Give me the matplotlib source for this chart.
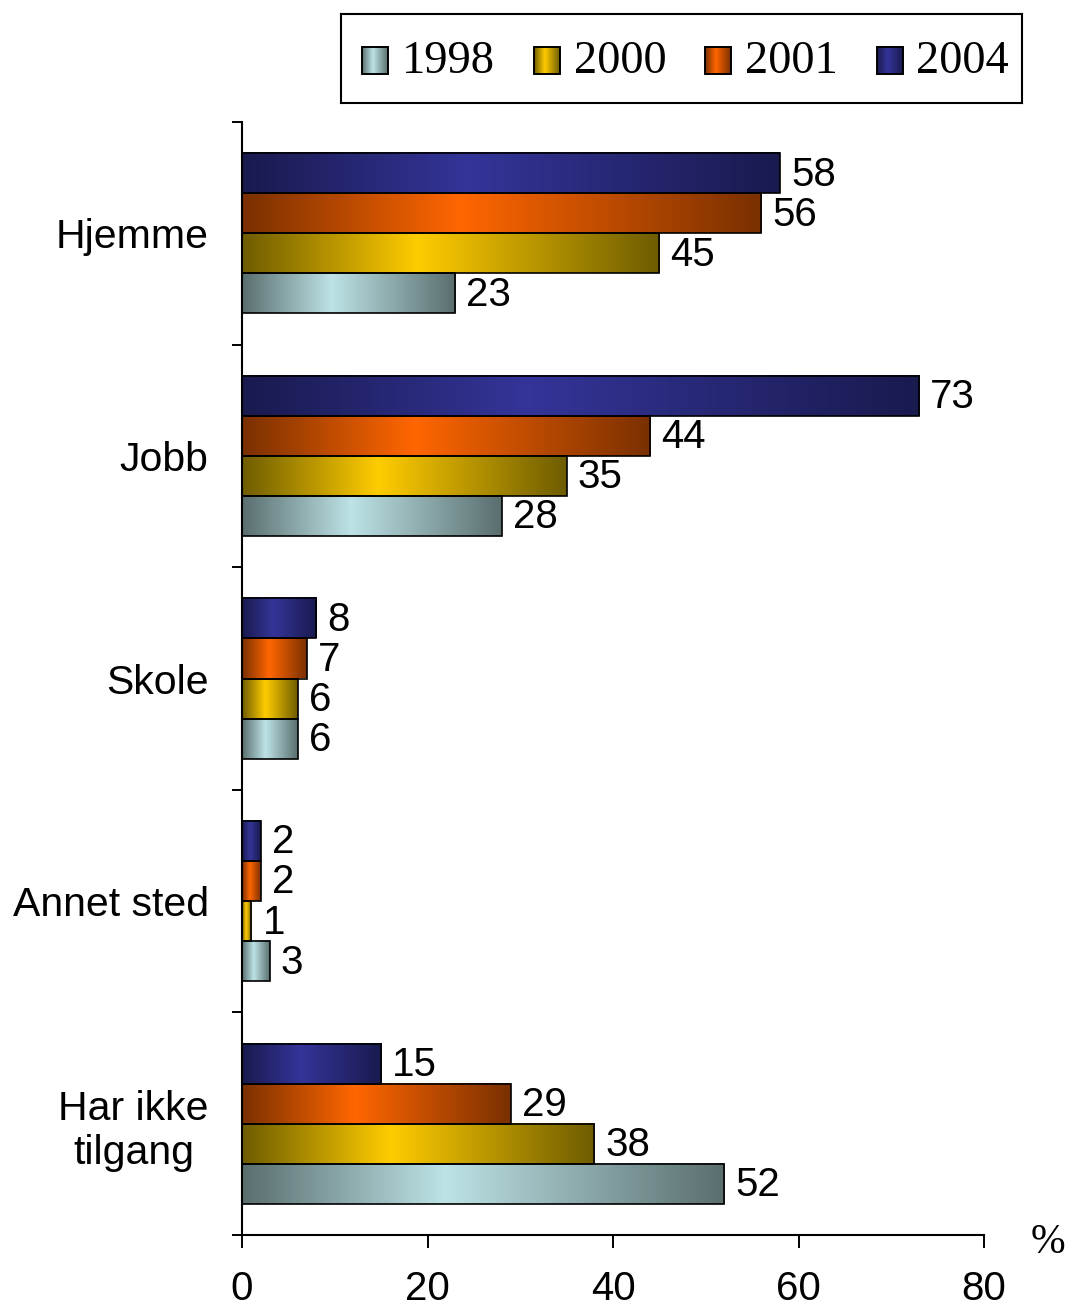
import numpy as np
import matplotlib
matplotlib.use('Agg')
from matplotlib import pyplot as plt
from matplotlib.colors import LinearSegmentedColormap
from matplotlib.patches import Rectangle

# data
categories = ['Hjemme', 'Jobb', 'Skole', 'Annet sted', 'Har ikke\ntilgang']
years = ['1998', '2000', '2001', '2004']
v1998 = [23, 28, 6, 3, 52]
v2000 = [45, 35, 6, 1, 38]
v2001 = [56, 44, 7, 2, 29]
v2004 = [58, 73, 8, 2, 15]
series = [v1998, v2000, v2001, v2004]

# (dark edge, light middle) per year
shades = [('#5a6e6e', '#bde3e6'),
          ('#6e5c00', '#ffcc00'),
          ('#7a3000', '#ff6600'),
          ('#191a4e', '#343499')]

plt.rcParams['font.family'] = ['Liberation Sans', 'DejaVu Sans']

fig = plt.figure(figsize=(10.72, 13.08), dpi=100)
ax = fig.add_axes([242 / 1072, 1 - 1235 / 1308, 742 / 1072, 1113 / 1308])

h = 0.18
grad = np.linspace(0, 1, 256).reshape(1, -1)
cmaps = [LinearSegmentedColormap.from_list('g%d' % i, [(0, d), (0.42, l), (1, d)])
         for i, (d, l) in enumerate(shades)]

for i, vals in enumerate(series):
    offs = (1.5 - i) * h  # 1998 lowest, 2004 on top
    ys = np.arange(len(categories)) + offs
    bars = ax.barh(ys, vals, height=h, facecolor='none', edgecolor='black',
                   linewidth=1.2, zorder=3)
    for b, v in zip(bars, vals):
        x0, y0 = b.get_x(), b.get_y()
        ax.imshow(grad, cmap=cmaps[i], aspect='auto', zorder=2,
                  extent=[x0, x0 + b.get_width(), y0 + b.get_height(), y0],
                  interpolation='bilinear')
        ax.annotate(str(v), (x0 + b.get_width(), y0 + b.get_height() / 2),
                    xytext=(8, -1), textcoords='offset points',
                    ha='left', va='center', fontsize=29)

ax.set_xlim(0, 80)
ax.set_ylim(4.5, -0.5)
ax.set_xticks([0, 20, 40, 60, 80])
ax.set_yticks(np.arange(-0.5, 5, 1))
ax.set_yticklabels([])
ax.set_yticks(np.arange(len(categories)), minor=True)
ax.set_yticklabels(categories, minor=True, fontsize=29.5, multialignment='center')
ax.tick_params(axis='y', which='minor', length=0, pad=24)
ax.tick_params(axis='y', which='major', length=7, width=1.4, direction='out')
ax.tick_params(axis='x', length=9, width=1.4, direction='out', pad=16, labelsize=29)
for s in ['top', 'right']:
    ax.spines[s].set_visible(False)
for s in ['left', 'bottom']:
    ax.spines[s].set_linewidth(1.5)

fig.text(1048 / 1072, 1 - 1243 / 1308, '%', family='Liberation Serif',
         fontsize=30, ha='center', va='center')

# legend drawn by hand
lax = fig.add_axes([341 / 1072, 1 - 103 / 1308, 681 / 1072, 89 / 1308])
lax.set_xticks([])
lax.set_yticks([])
for s in lax.spines.values():
    s.set_linewidth(1.5)
for i, yr in enumerate(years):
    x0 = 21 + i * 171.5
    lax.imshow(grad, cmap=cmaps[i], aspect='auto', extent=[x0, x0 + 26, 60, 33],
               interpolation='bilinear', zorder=2)
    lax.add_patch(Rectangle((x0, 33), 26, 27, facecolor='none', edgecolor='black',
                            linewidth=1.4, zorder=3))
    lax.text(x0 + 40, 48, yr, family='Liberation Serif', fontsize=33.5,
             ha='left', va='center')
lax.set_xlim(0, 681)
lax.set_ylim(89, 0)

fig.savefig('out.png', dpi=100)
